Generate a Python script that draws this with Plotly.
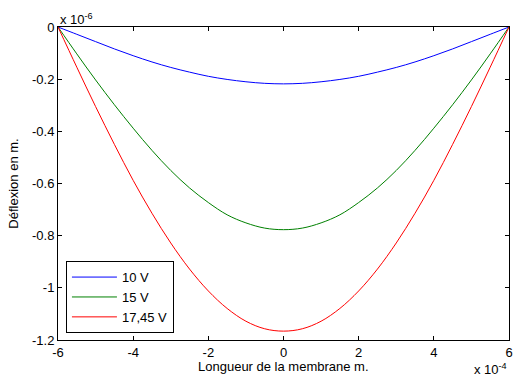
import plotly.graph_objects as go

# Position along the membrane (x 10^-4 m)
x_pos = [-6, -5.5, -5, -4.5, -4, -3.5, -3, -2.5, -2, -1.5, -1, -0.5, 0,
         0.5, 1, 1.5, 2, 2.5, 3, 3.5, 4, 4.5, 5, 5.5, 6]
# Deflection (x 10^-6 m)
defl_10V = [0, -0.028, -0.056, -0.084, -0.110, -0.134, -0.155, -0.173, -0.189, -0.201, -0.210, -0.216, -0.218,
            -0.216, -0.210, -0.201, -0.189, -0.173, -0.155, -0.134, -0.110, -0.084, -0.056, -0.028, 0]
defl_15V = [0, -0.103, -0.203, -0.298, -0.388, -0.473, -0.550, -0.617, -0.673, -0.720, -0.751, -0.771, -0.777,
            -0.771, -0.751, -0.720, -0.673, -0.617, -0.550, -0.473, -0.388, -0.298, -0.203, -0.103, 0]
defl_1745V = [0, -0.154, -0.305, -0.450, -0.588, -0.714, -0.828, -0.928, -1.012, -1.079, -1.128, -1.157, -1.166,
              -1.157, -1.128, -1.079, -1.012, -0.928, -0.828, -0.714, -0.588, -0.450, -0.305, -0.154, 0]

series = [("10 V", defl_10V, "#0000ff"), ("15 V", defl_15V, "#008000"), ("17,45 V", defl_1745V, "#ff0000")]

x_ticks = [-6, -4, -2, 0, 2, 4, 6]
y_ticks = [0, -0.2, -0.4, -0.6, -0.8, -1, -1.2]
y_ticklabels = ["0", "-0.2", "-0.4", "-0.6", "-0.8", "-1", "-1.2"]

font = "Liberation Sans, Arial, sans-serif"
fs = 13

fig = go.Figure()
for name, vals, col in series:
    fig.add_trace(go.Scatter(x=x_pos, y=vals, mode="lines", name=name,
                             line=dict(color=col, width=1, shape="spline", smoothing=1.0)))

axis_common = dict(showline=True, linecolor="black", linewidth=1, mirror="ticks",
                   ticks="inside", ticklen=4, tickcolor="black", showgrid=False,
                   zeroline=False, ticklabeloverflow="allow",
                   tickfont=dict(family=font, size=fs, color="black"))

fig.update_layout(
    width=515, height=378,
    margin=dict(l=58, r=2, t=27, b=38),
    paper_bgcolor="white", plot_bgcolor="white",
    font=dict(family=font, size=fs, color="black"),
    xaxis=dict(range=[-6, 6], tickvals=x_ticks, ticktext=[str(v) for v in x_ticks],
               **axis_common),
    yaxis=dict(range=[-1.2, 0], tickvals=y_ticks, ticktext=y_ticklabels,
               title=dict(text="Déflexion en m.", font=dict(size=fs), standoff=10),
               **axis_common),
    legend=dict(x=0.0176, y=0.022, xanchor="left", yanchor="bottom",
                bordercolor="black", borderwidth=1, bgcolor="white",
                font=dict(family=font, size=fs), tracegroupgap=0, itemwidth=45),
    showlegend=True,
)

fig.add_annotation(text="Longueur de la membrane m.", xref="paper", yref="paper", x=0.5, y=-0.085,
                   xanchor="center", yanchor="middle", showarrow=False,
                   font=dict(family=font, size=fs))
fig.add_annotation(text="x 10<sup>-6</sup>", xref="paper", yref="paper", x=0, y=1,
                   xanchor="left", yanchor="bottom", showarrow=False,
                   font=dict(family=font, size=fs), yshift=-2)
fig.add_annotation(text="x 10<sup>-4</sup>", xref="paper", yref="paper", x=1, y=0,
                   xanchor="right", yanchor="top", showarrow=False,
                   font=dict(family=font, size=fs), yshift=-19)

fig.write_html("out.html", config={"displayModeBar": False},
               post_script="document.body.style.margin='0';document.body.style.overflow='hidden';")
